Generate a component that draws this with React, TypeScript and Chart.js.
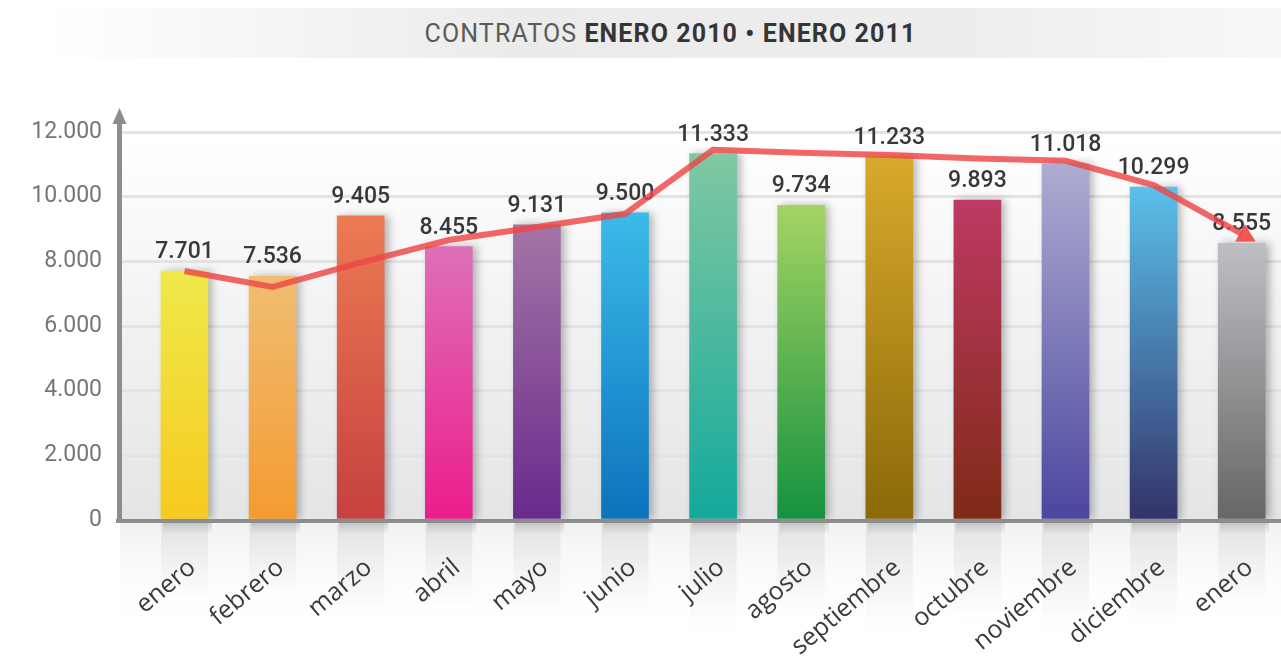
import React, { useEffect, useRef } from "react";
import { Chart, registerables } from "chart.js";

Chart.register(...registerables);

const categories = [
  "enero", "febrero", "marzo", "abril", "mayo", "junio", "julio",
  "agosto", "septiembre", "octubre", "noviembre", "diciembre", "enero",
];
const contratos = [7701, 7536, 9405, 8455, 9131, 9500, 11333, 9734, 11233, 9893, 11018, 10299, 8555];
const tendencia = [7700, 7210, 7960, 8660, 9060, 9470, 11450, 11360, 11290, 11180, 11110, 10360, 8850];
const yTicks = [0, 2000, 4000, 6000, 8000, 10000, 12000];
const barTopColors = [
  "#efe94a", "#f0bd72", "#ec7b53", "#de70b8", "#a574a6", "#3bbbe9", "#80c8a2",
  "#a5d363", "#d8a92c", "#be3a63", "#adacd2", "#5bc0ea", "#bebfc3",
];
const barBottomColors = [
  "#f7ca1f", "#f49b31", "#c6403f", "#ec1c8d", "#682a8c", "#0c72bd", "#13a99c",
  "#14923f", "#8b6909", "#7f2a16", "#4b469e", "#33336a", "#666667",
];

const fmt = (v: number) =>
  v >= 1000 ? `${Math.floor(v / 1000)}.${String(v % 1000).padStart(3, "0")}` : String(v);

const decorPlugin = {
  id: "decor",
  beforeDraw(chart: any) {
    const { ctx, chartArea } = chart;
    const { left, right, top, bottom } = chartArea;
    ctx.save();
    const g = ctx.createLinearGradient(0, top, 0, bottom);
    g.addColorStop(0, "#ffffff");
    g.addColorStop(1, "#e4e5e7");
    ctx.fillStyle = g;
    ctx.fillRect(left, top - 20, right - left, bottom - top + 20);
    const g2 = ctx.createLinearGradient(0, bottom, 0, bottom + 120);
    g2.addColorStop(0, "#f0f1f1");
    g2.addColorStop(1, "rgba(255,255,255,0)");
    ctx.fillStyle = g2;
    ctx.fillRect(left, bottom, right - left, 120);
    const meta = chart.getDatasetMeta(0);
    meta.data.forEach((bar: any) => {
      const w = bar.width;
      const h = (bar.base - bar.y) * 0.32;
      const gr = ctx.createLinearGradient(0, bottom, 0, bottom + h);
      gr.addColorStop(0, "rgba(0,0,0,0.07)");
      gr.addColorStop(1, "rgba(0,0,0,0)");
      ctx.fillStyle = gr;
      ctx.fillRect(bar.x - w / 2, bottom, w, h);
      const gs = ctx.createLinearGradient(0, bottom, 0, bottom + 14);
      gs.addColorStop(0, "rgba(0,0,0,0.16)");
      gs.addColorStop(1, "rgba(0,0,0,0)");
      ctx.fillStyle = gs;
      ctx.fillRect(bar.x - w / 2 + 2, bottom, w + 2, 14);
    });
    ctx.restore();
  },
  beforeDatasetDraw(chart: any, args: any) {
    if (args.index === 0) {
      const ctx = chart.ctx;
      ctx.save();
      ctx.shadowColor = "rgba(0,0,0,0.28)";
      ctx.shadowBlur = 8;
      ctx.shadowOffsetX = 4;
      ctx.shadowOffsetY = 0;
    }
  },
  afterDatasetDraw(chart: any, args: any) {
    if (args.index === 0) {
      const ctx = chart.ctx;
      ctx.restore();
      ctx.save();
      ctx.font = "500 23px Roboto";
      ctx.fillStyle = "#383838";
      ctx.textAlign = "center";
      ctx.textBaseline = "alphabetic";
      chart.getDatasetMeta(0).data.forEach((bar: any, i: number) => {
        ctx.fillText(fmt(contratos[i]), bar.x, bar.y - 13);
      });
      ctx.restore();
    }
  },
  afterDatasetsDraw(chart: any) {
    const { ctx, chartArea } = chart;
    const { left, right, top, bottom } = chartArea;
    ctx.save();
    ctx.fillStyle = "#8d8d8e";
    ctx.fillRect(left - 4, bottom - 1, right - left + 4, 4);
    ctx.fillRect(left - 3, top - 10, 5, bottom - top + 12);
    ctx.beginPath();
    ctx.moveTo(left - 0.5, top - 24);
    ctx.lineTo(left - 7.5, top - 8);
    ctx.lineTo(left + 6.5, top - 8);
    ctx.closePath();
    ctx.fill();
    const pts = chart.getDatasetMeta(1).data;
    const n = pts.length;
    const p1 = pts[n - 2];
    const p2 = pts[n - 1];
    let dx = p2.x - p1.x;
    let dy = p2.y - p1.y;
    const len = Math.hypot(dx, dy);
    dx /= len;
    dy /= len;
    const tipX = p2.x + dx * 16;
    const tipY = p2.y + dy * 16;
    const bx = p2.x - dx * 2;
    const by = p2.y - dy * 2;
    ctx.fillStyle = "rgba(238,70,70,0.9)";
    ctx.beginPath();
    ctx.moveTo(tipX, tipY);
    ctx.lineTo(bx - dy * 10, by + dx * 10);
    ctx.lineTo(bx + dy * 10, by - dx * 10);
    ctx.closePath();
    ctx.fill();
    ctx.restore();
  },
};

export default function App() {
  const canvasRef = useRef<HTMLCanvasElement | null>(null);

  useEffect(() => {
    if (!canvasRef.current) return;
    const chart = new Chart(canvasRef.current, {
      type: "bar",
      data: {
        datasets: [
          {
            type: "bar",
            label: "Contratos",
            data: contratos.map((v, i) => ({ x: i, y: v })),
            barThickness: 47,
            order: 1,
            backgroundColor: (c: any) => {
              const i = c.dataIndex ?? 0;
              const ys = c.chart.scales?.y;
              if (!ys || c.type !== "data") return barBottomColors[i];
              const t = ys.getPixelForValue(contratos[i]);
              const b = ys.getPixelForValue(0);
              if (!isFinite(t) || !isFinite(b) || t === b) return barBottomColors[i];
              const g = c.chart.ctx.createLinearGradient(0, t, 0, b);
              g.addColorStop(0, barTopColors[i]);
              g.addColorStop(1, barBottomColors[i]);
              return g;
            },
            borderWidth: 0,
          } as any,
          {
            type: "line",
            label: "Tendencia",
            data: tendencia.map((v, i) => ({ x: i, y: v })),
            borderColor: "rgba(238,70,70,0.82)",
            borderWidth: 6,
            pointRadius: 0,
            tension: 0,
            fill: false,
            clip: false,
            order: 0,
          } as any,
        ],
      },
      options: {
        animation: false,
        responsive: true,
        maintainAspectRatio: false,
        layout: { padding: { top: 132, right: 0, bottom: 0, left: 0 } },
        plugins: {
          legend: { display: false },
          tooltip: { enabled: false },
          title: { display: false },
        },
        scales: {
          x: {
            type: "linear",
            offset: false,
            min: -0.732,
            max: 12.446,
            afterBuildTicks: (s: any) => {
              s.ticks = categories.map((_, i) => ({ value: i }));
            },
            afterFit: (s: any) => {
              s.height = 138;
              s.paddingLeft = 0;
              s.paddingRight = 0;
            },
            grid: { display: false, drawTicks: false, offset: false },
            border: { display: false },
            ticks: {
              autoSkip: false,
              minRotation: 40,
              maxRotation: 40,
              padding: 33,
              labelOffset: 8,
              color: "#3a3a3a",
              font: { family: "'Open Sans', sans-serif", size: 25 },
              callback: (v: any) => categories[v] ?? "",
            },
          },
          y: {
            min: 0,
            max: 12000,
            afterBuildTicks: (s: any) => {
              s.ticks = yTicks.map((v) => ({ value: v }));
            },
            afterFit: (s: any) => {
              s.width = 120;
            },
            grid: { color: "#e3e3e3", lineWidth: 3, drawTicks: false },
            border: { display: false },
            ticks: {
              padding: 18,
              color: "#767676",
              font: { family: "Roboto, sans-serif", size: 23 },
              callback: (v: any) => fmt(Number(v)),
            },
          },
        },
      } as any,
      plugins: [decorPlugin],
    });
    return () => chart.destroy();
  }, []);

  return (
    <div
      style={{
        position: "fixed",
        left: 0,
        top: 0,
        width: 1281,
        height: 658,
        background: "#ffffff",
        overflow: "hidden",
      }}
    >
      <div
        style={{
          position: "absolute",
          left: 0,
          top: 8,
          width: 1281,
          height: 50,
          boxSizing: "border-box",
          paddingLeft: 60,
          background:
            "linear-gradient(to right, rgba(255,255,255,1) 3%, #ebebec 40%, #ededee 75%, #f8f8f8 100%)",
          display: "flex",
          alignItems: "center",
          justifyContent: "center",
          fontFamily: "Roboto, sans-serif",
          fontSize: 25,
          letterSpacing: "1.1px",
          color: "#5a5a5a",
          whiteSpace: "nowrap",
        }}
      >
        <span>
          CONTRATOS{" "}
          <b style={{ color: "#353535", fontWeight: 700 }}>ENERO 2010 • ENERO 2011</b>
        </span>
      </div>
      <canvas ref={canvasRef} style={{ position: "absolute", left: 0, top: 0 }} />
    </div>
  );
}
